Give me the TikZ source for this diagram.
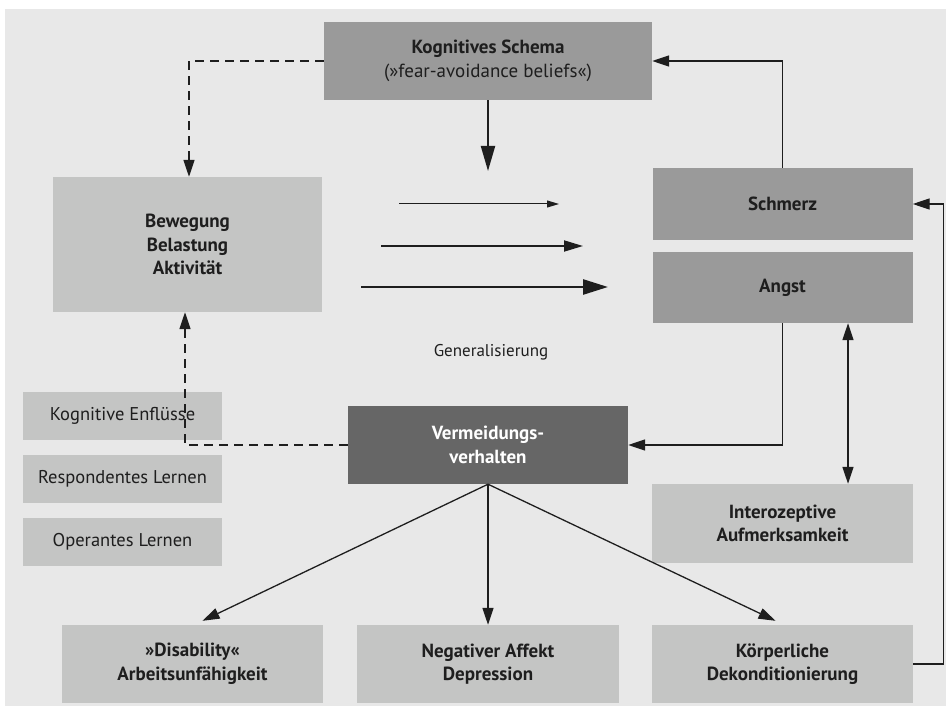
\documentclass[tikz,border=0pt]{standalone}
\usepackage{fontspec}
\setmainfont{PT Sans}
\usetikzlibrary{arrows.meta,calc}
\definecolor{bg}{HTML}{E8E8E8}
\definecolor{lightbox}{HTML}{C4C5C4}
\definecolor{midbox}{HTML}{9A9A9A}
\definecolor{darkbox}{HTML}{666666}
\definecolor{ink}{HTML}{1E1E1E}
\tikzset{
  box/.style={rectangle, inner sep=2pt, align=center, text=ink, font=\fontsize{19}{23.5}\selectfont\bfseries},
  lbox/.style={box, fill=lightbox},
  mbox/.style={box, fill=midbox},
  dbox/.style={box, fill=darkbox, text=white},
  sbox/.style={box, fill=lightbox, font=\fontsize{18.5}{22}\selectfont},
  tip/.style={-{Triangle[length=17pt,width=11pt]}},
  conn/.style={draw=ink, line width=1.3pt, tip},
  dconn/.style={conn, dash pattern=on 9pt off 6pt},
}
\begin{document}
\begin{tikzpicture}[x=1pt,y=-1pt]
\useasboundingbox (0,0) rectangle (946,706);
\fill[white] (0,0) rectangle (946,706);
\fill[bg] (5,9) rectangle (946,706);

\node[mbox, minimum width=328pt, minimum height=78pt] (ks) at (488,61) {Kognitives Schema\\\mdseries(»fear-avoidance beliefs«)};
\node[lbox, minimum width=269pt, minimum height=135pt] (bew) at (187.5,244.5) {Bewegung\\Belastung\\Aktivität};
\node[mbox, minimum width=260pt, minimum height=72pt] (sch) at (782.5,204) {Schmerz};
\node[mbox, minimum width=260pt, minimum height=71pt] (ang) at (782.5,287.5) {Angst};
\node[dbox, minimum width=280pt, minimum height=78pt] (ver) at (488,445) {Vermeidungs-\\verhalten};
\node[lbox, minimum width=261pt, minimum height=79pt] (int) at (782.5,523.5) {Interozeptive\\Aufmerksamkeit};
\node[lbox, minimum width=261pt, minimum height=78pt] (dis) at (192.5,664) {»Disability«\\Arbeitsunfähigkeit};
\node[lbox, minimum width=262pt, minimum height=78pt] (neg) at (488,664) {Negativer Affekt\\Depression};
\node[lbox, minimum width=261pt, minimum height=78pt] (kor) at (782.5,664) {Körperliche\\Dekonditionierung};
\node[sbox, minimum width=199pt, minimum height=48pt] (k1) at (122.5,416) {Kognitive Enflüsse};
\node[sbox, minimum width=199pt, minimum height=48pt] (k2) at (122.5,479) {Respondentes Lernen};
\node[sbox, minimum width=199pt, minimum height=48pt] (k3) at (122.5,542) {Operantes Lernen};
\node[text=ink, font=\fontsize{17}{20}\selectfont] (gen) at (491,352) {Generalisierung};

% generalisation arrows
\coordinate (a1s) at (399,204); \coordinate (a1e) at (559,204);
\coordinate (a2s) at (381,246); \coordinate (a2e) at (583,246);
\coordinate (a3s) at (361,287); \coordinate (a3e) at (608,287);
\draw[draw=ink, line width=1pt, -{Triangle[length=12pt,width=7pt]}] (a1s) -- (a1e);
\draw[draw=ink, line width=1.8pt, -{Triangle[length=19pt,width=11pt]}] (a2s) -- (a2e);
\draw[draw=ink, line width=2.6pt, -{Triangle[length=25pt,width=15pt]}] (a3s) -- (a3e);

% connectors
\coordinate (ksdown) at (488,171);
\draw[draw=ink, line width=2pt, -{Triangle[length=25pt,width=14pt]}] (ks.south) -- (ksdown);
\draw[dconn] (ks.west) -| ([xshift=1.5pt]bew.north);
\draw[conn] (sch.north) |- (ks.east);
\draw[conn] (ang.south) |- (ver.east);
\coordinate (dx) at (848,0);
\draw[conn, {Triangle[length=17pt,width=11pt]}-{Triangle[length=17pt,width=11pt]}] (ang.south -| dx) -- (int.north -| dx);
\draw[conn] (kor.east) -- ++(30,0) |- (sch.east);
\draw[dconn] (ver.west) -| ([xshift=-2.5pt]bew.south);
\draw[conn] (ver.south) -- ([xshift=10pt,yshift=4pt]dis.north);
\draw[conn] (ver.south) -- (neg.north);
\draw[conn] (ver.south) -- ([xshift=-7pt,yshift=4pt]kor.north);
\end{tikzpicture}
\end{document}
